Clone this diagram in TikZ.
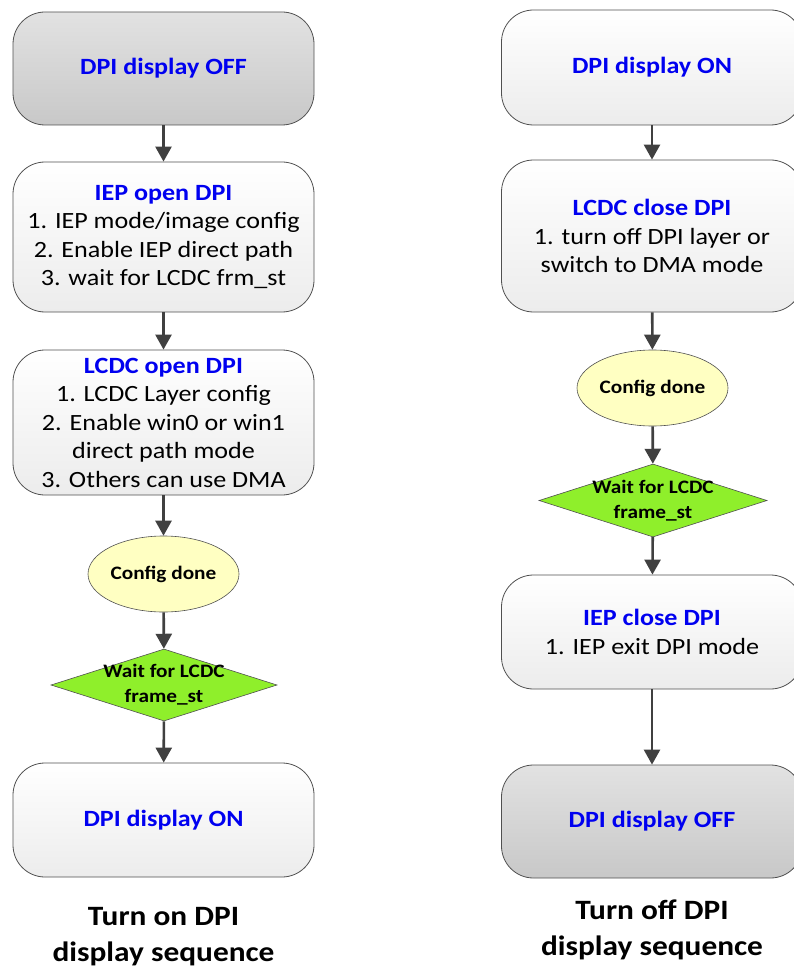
\documentclass[tikz,border=0pt]{standalone}
\usepackage{fontspec}
\setmainfont{Carlito}[FakeStretch=1.12]
\usepackage{tikz}
\usetikzlibrary{arrows.meta, shapes.geometric}
\definecolor{dpiblue}{HTML}{0000F0}
\definecolor{cline}{HTML}{505050}
\definecolor{carrow}{HTML}{404040}
\definecolor{lightyellow}{HTML}{FFFFC2}
\definecolor{cgreen}{HTML}{8FEF2B}
\definecolor{grtop}{HTML}{E2E2E2}
\definecolor{grbot}{HTML}{C8C8C8}
\definecolor{wtop}{HTML}{FFFFFF}
\definecolor{wbot}{HTML}{ECECEC}

\begin{document}
\begin{tikzpicture}[x=1pt, y=-1pt,
  box/.style={draw=cline, line width=0.8pt, rounded corners=32pt,
    minimum width=301pt, align=center,
    font=\fontsize{23.3}{28.5}\selectfont},
  offbox/.style={box, top color=grtop, bottom color=grbot},
  onbox/.style={box, top color=wtop, bottom color=wbot},
  donebox/.style={ellipse, draw=cline, line width=0.6pt, fill=lightyellow,
    minimum width=151pt, minimum height=76pt, inner sep=0pt,
    font=\fontsize{19}{24}\selectfont\bfseries},
  waitbox/.style={diamond, draw=cline, line width=0.6pt, fill=cgreen,
    minimum width=226pt, minimum height=72pt, inner sep=0pt},
  caption/.style={align=center, font=\fontsize{28}{36}\selectfont\bfseries},
  flow/.style={carrow, line width=2.6pt, -{Triangle[length=15pt, width=16pt]}}]
  \useasboundingbox (0,0) rectangle (794,968);

  % Turn on sequence
  \node[offbox, minimum height=113pt] (offL) at (163.5,68.5)
    {\bfseries\color{dpiblue}DPI display OFF};
  \node[onbox, minimum height=150pt] (iepOpen) at (163.5,237)
    {{\bfseries\color{dpiblue}IEP open DPI}\\
     1. IEP mode/image config\\
     2. Enable IEP direct path\\
     3. wait for LCDC frm\_st};
  \node[onbox, minimum height=145pt] (lcdcOpen) at (163.5,422.5)
    {{\bfseries\color{dpiblue}LCDC open DPI}\\
     1. LCDC Layer config\\
     2. Enable win0 or win1\\
     direct path mode\\
     3. Others can use DMA};
  \node[donebox] (cfgL) at (163.5,574) {Config done};
  \node[waitbox, label={[align=center, font=\fontsize{19}{25}\selectfont\bfseries]center:Wait for LCDC\\frame\_st}] (waitL) at (164,685) {};
  \node[onbox, minimum height=114pt] (onL) at (163.5,820)
    {\bfseries\color{dpiblue}DPI display ON};
  \node[caption] (capL) at (163.5,937) {Turn on DPI\\display sequence};

  \draw[flow] (offL) -- (iepOpen);
  \draw[flow] (iepOpen) -- (lcdcOpen);
  \draw[flow] (lcdcOpen) -- (cfgL);
  \draw[flow] (cfgL) -- (waitL);
  \draw[flow] (waitL) -- (onL);

  % Turn off sequence
  \node[onbox, minimum height=115pt] (onR) at (652,67.5)
    {\bfseries\color{dpiblue}DPI display ON};
  \node[onbox, minimum height=152pt] (lcdcClose) at (652,236)
    {{\bfseries\color{dpiblue}LCDC close DPI}\\
     1. turn off DPI layer or\\
     switch to DMA mode};
  \node[donebox] (cfgR) at (652.5,388) {Config done};
  \node[waitbox, minimum width=228pt, minimum height=73pt, label={[align=center, font=\fontsize{19}{25}\selectfont\bfseries]center:Wait for LCDC\\frame\_st}] (waitR) at (653,500.5) {};
  \node[onbox, minimum height=114pt] (iepClose) at (652,632)
    {{\bfseries\color{dpiblue}IEP close DPI}\\
     1. IEP exit DPI mode};
  \node[offbox, minimum height=113pt] (offR) at (652,821.5)
    {\bfseries\color{dpiblue}DPI display OFF};
  \node[caption] (capR) at (652,930) {Turn off DPI\\display sequence};

  \draw[flow] (onR) -- (lcdcClose);
  \draw[flow] (lcdcClose) -- (cfgR);
  \draw[flow] (cfgR) -- (waitR);
  \draw[flow] (waitR) -- (iepClose);
  \draw[flow] (iepClose) -- (offR);
\end{tikzpicture}
\end{document}
